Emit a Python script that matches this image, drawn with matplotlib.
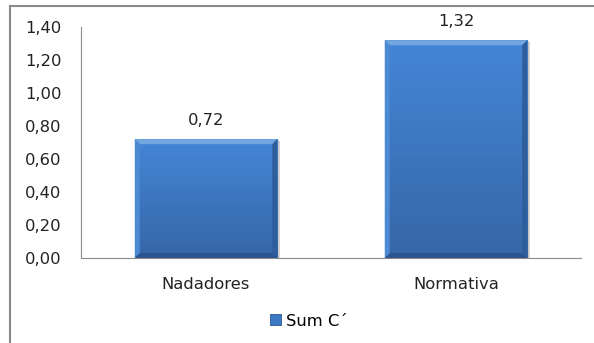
import matplotlib
matplotlib.use("Agg")
import matplotlib.pyplot as plt
import numpy as np
from matplotlib.patches import Polygon, Patch
from matplotlib.lines import Line2D
from matplotlib.ticker import FuncFormatter

categories = ["Nadadores", "Normativa"]
values = [0.72, 1.32]
series_name = "Sum C\u00b4"
y_ticks = [0.0, 0.2, 0.4, 0.6, 0.8, 1.0, 1.2, 1.4]

W, H = 594, 343
fig = plt.figure(figsize=(W / 100, H / 100), dpi=100)
plt.rcParams["font.family"] = ["DejaVu Sans"]
FS = 11.8

ax = fig.add_axes([81 / W, 1 - 258 / H, 500 / W, 231 / H])
ax.set_xlim(-0.5, len(categories) - 0.5)
ax.set_ylim(0, 1.4)

grey = "#8c8c8c"
for s in ["top", "right"]:
    ax.spines[s].set_visible(False)
ax.spines["left"].set_color(grey)
ax.spines["bottom"].set_color(grey)
ax.tick_params(axis="both", length=0, labelsize=FS, colors="#222222")
ax.tick_params(axis="y", pad=14)
ax.tick_params(axis="x", pad=14)
ax.set_yticks(y_ticks)
ax.yaxis.set_major_formatter(FuncFormatter(lambda v, p: f"{v:.2f}".replace(".", ",")))
ax.set_xticks(range(len(categories)))
ax.set_xticklabels(categories)

bar_w = 0.57
# pixel -> data scale for bevel size
px_x = (ax.get_xlim()[1] - ax.get_xlim()[0]) / 500
px_y = (ax.get_ylim()[1] - ax.get_ylim()[0]) / 231
bx, by = 5 * px_x, 5 * px_y

grad = np.linspace(0, 1, 64)[:, None]
top_c = np.array([0x44, 0x86, 0xd6]) / 255
bot_c = np.array([0x37, 0x66, 0xa8]) / 255

bars = ax.bar(range(len(categories)), values, width=bar_w, color="none", zorder=2)
for rect, v in zip(bars, values):
    x0 = rect.get_x()
    x1 = x0 + rect.get_width()
    y0, y1 = 0, v
    # soft shadow to the right
    ax.add_patch(Polygon([(x1, y0), (x1 + 2.5 * px_x, y0), (x1 + 2.5 * px_x, y1 - 2 * px_y), (x1, y1)],
                         closed=True, color="#c8c8c8", lw=0, zorder=1.5))
    img = top_c[None, None, :] * (1 - grad[:, :, None]) + bot_c[None, None, :] * grad[:, :, None]
    ax.imshow(img, extent=(x0, x1, y0, y1), origin="upper", aspect="auto", zorder=2, interpolation="bilinear")
    # bevel edges
    ax.add_patch(Polygon([(x0, y1), (x1, y1), (x1 - bx, y1 - by), (x0 + bx, y1 - by)],
                         closed=True, color="#74a6e2", lw=0, zorder=3))
    ax.add_patch(Polygon([(x1, y1), (x1, y0), (x1 - bx, y0 + by), (x1 - bx, y1 - by)],
                         closed=True, color="#2f5e9c", lw=0, zorder=3))
    ax.add_patch(Polygon([(x0, y0), (x1, y0), (x1 - bx, y0 + by), (x0 + bx, y0 + by)],
                         closed=True, color="#2c5590", lw=0, zorder=3))
    ax.add_patch(Polygon([(x0, y1), (x0, y0), (x0 + bx, y0 + by), (x0 + bx, y1 - by)],
                         closed=True, color="#4c8ad4", lw=0, zorder=3))
    ax.text(rect.get_x() + rect.get_width() / 2, v + 11 * px_y, f"{v:.2f}".replace(".", ","),
            ha="center", va="bottom", fontsize=FS, color="#222222", zorder=4)

ax.set_xlim(-0.5, len(categories) - 0.5)
ax.set_ylim(0, 1.4)

# chart frame
fig.add_artist(Line2D([10 / W, 10 / W], [0, 1 - 6 / H], color="#8a8a8a", lw=1.5, transform=fig.transFigure))
fig.add_artist(Line2D([10 / W, 1], [1 - 6 / H, 1 - 6 / H], color="#8a8a8a", lw=1.5, transform=fig.transFigure))

handle = Patch(facecolor="#3d78c2", edgecolor="#2c5590", lw=0.6)
fig.legend([handle], [series_name], loc="center", bbox_to_anchor=(309 / W, 1 - 321 / H),
           frameon=False, fontsize=FS, handlelength=0.65, handleheight=0.65, handletextpad=0.3)

fig.savefig("out.png", dpi=100)
